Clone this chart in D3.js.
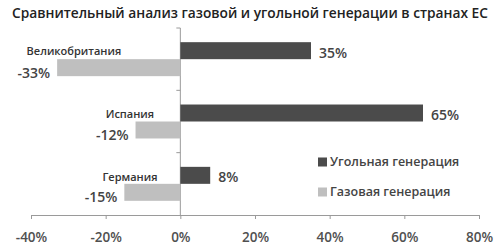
<!DOCTYPE html>
<html><head><meta charset="utf-8">
<script src="https://cdn.jsdelivr.net/npm/d3@7"></script>
<style>body{margin:0;background:#fff}svg{display:block}text{font-family:"Open Sans",sans-serif}</style>
</head><body>
<svg id="c" width="500" height="252"></svg>
<script>
const title = "Сравнительный анализ газовой и угольной генерации в странах ЕС";
const countries = ["Великобритания", "Испания", "Германия"];
const seriesNames = ["Угольная генерация", "Газовая генерация"];
const coal = [35, 65, 8];
const gas = [-33, -12, -15];
const ticks = [-40, -20, 0, 20, 40, 60, 80];
const colors = ["#4b4b4b", "#bfbfbf"];

const svg = d3.select("#c");
const x = d3.scaleLinear().domain([-40, 80]).range([31, 479]);
const y = d3.scaleBand().domain(countries).range([28, 215]).paddingInner(0.455).paddingOuter(0.2275);
const sub = d3.scaleBand().domain([0, 1]).range([0, y.bandwidth()]);

// title
const t = svg.append("text").attr("x", 12).attr("y", 18).text(title)
  .attr("font-size", 13.5).attr("font-weight", 600).attr("fill", "#222");
t.attr("textLength", 476).attr("lengthAdjust", "spacingAndGlyphs");

// x axis
const xAxis = d3.axisBottom(x).tickValues(ticks).tickSize(4).tickFormat(d => d + "%");
const gx = svg.append("g").attr("transform", "translate(0,215)").call(xAxis);
gx.select(".domain").attr("stroke", "#9a9a9a");
gx.selectAll(".tick line").attr("stroke", "#9a9a9a");
gx.selectAll(".tick text").attr("font-size", 13.5).attr("font-weight", 600).attr("fill", "#505050")
  .attr("font-family", '"Open Sans",sans-serif').attr("dy", "1.5em");

// y axis at zero
const boundaries = [28].concat(countries.map(c => y(c) - y.step() * y.paddingInner() / 2 + y.step()));
const gy = svg.append("g");
gy.append("line").attr("x1", x(0)).attr("x2", x(0)).attr("y1", 28).attr("y2", 215).attr("stroke", "#9a9a9a");
gy.selectAll("line.t").data(boundaries.slice(0, 3)).join("line").attr("class", "t")
  .attr("x1", x(0) - 4).attr("x2", x(0)).attr("y1", d => d).attr("y2", d => d).attr("stroke", "#9a9a9a");

const rows = countries.map((c, i) => ({c, i, v: [coal[i], gas[i]]}));
const g = svg.append("g");
rows.forEach(r => {
  r.v.forEach((v, s) => {
    g.append("rect")
      .attr("x", x(Math.min(0, v))).attr("width", Math.abs(x(v) - x(0)))
      .attr("y", y(r.c) + sub(s)).attr("height", sub.bandwidth())
      .attr("fill", colors[s]);
    const pos = v >= 0;
    g.append("text")
      .attr("x", pos ? x(v) + 8 : x(v) - 7)
      .attr("y", y(r.c) + sub(s) + sub.bandwidth() / 2 + (pos ? 2 : 5))
      .attr("dy", "0.35em")
      .attr("text-anchor", pos ? "start" : "end")
      .attr("font-size", 14).attr("font-weight", 600).attr("fill", "#444")
      .text(v + "%");
  });
});

// country labels
const labelCenters = [-28.5, -13.5, -13.5];
countries.forEach((c, i) => {
  svg.append("text")
    .attr("x", x(labelCenters[i])).attr("y", y(c) + sub.bandwidth() - 8 + (i === 0 ? 0 : 1))
    .attr("dy", "0.35em").attr("text-anchor", "middle")
    .attr("font-size", 11).attr("font-weight", 600).attr("fill", "#333")
    .text(c);
});

// legend
const leg = svg.append("g");
seriesNames.forEach((n, i) => {
  const ly = 162 + i * 30;
  leg.append("rect").attr("x", 318).attr("y", ly - 4.5).attr("width", 9).attr("height", 9).attr("fill", colors[i]);
  leg.append("text").attr("x", 330).attr("y", ly).attr("dy", "0.35em")
    .attr("font-size", 12.5).attr("font-weight", 600).attr("fill", "#444").text(n);
});
</script>
</body></html>
